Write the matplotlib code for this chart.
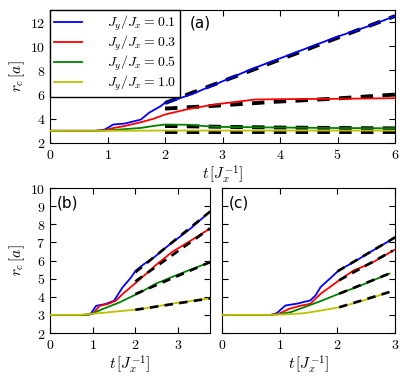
import matplotlib
matplotlib.use("Agg")
import matplotlib.pyplot as plt
from matplotlib.ticker import FuncFormatter

plt.rcParams['mathtext.fontset'] = 'cm'
plt.rcParams['font.family'] = 'serif'
plt.rcParams['font.serif'] = ['DejaVu Serif']

labels = [r'$J_y/J_x = 0.1$', r'$J_y/J_x = 0.3$', r'$J_y/J_x = 0.5$', r'$J_y/J_x = 1.0$']
colors = ['#0000ff', '#ff0000', '#008000', '#bfbf00']

# panel (a): simulation curves
ta = [
    [0, 0.8, 0.95, 1.1, 1.3, 1.58, 1.72, 1.92, 2.0, 2.2, 2.5, 3.0, 3.5, 4.0, 4.5, 5.0, 5.5, 6.0],
    [0, 0.8, 0.95, 1.11, 1.3, 1.58, 1.8, 2.0, 2.4, 2.86, 3.56, 4.0, 5.0, 6.0],
    [0, 0.8, 1.0, 1.58, 1.8, 2.0, 2.4, 2.86, 4.0, 5.0, 6.0],
    [0, 1.0, 2.0, 3.0, 4.0, 5.0, 6.0],
]
ra = [
    [3.0, 3.0, 3.1, 3.52, 3.6, 3.93, 4.49, 5.03, 5.32, 5.6, 6.1, 7.1, 8.1, 9.0, 9.9, 10.8, 11.6, 12.5],
    [3.0, 3.0, 3.05, 3.24, 3.4, 3.71, 4.0, 4.35, 4.8, 5.18, 5.59, 5.62, 5.65, 5.7],
    [3.0, 3.0, 3.03, 3.24, 3.4, 3.52, 3.5, 3.33, 3.27, 3.23, 3.21],
    [3.0, 3.0, 3.02, 3.02, 3.02, 3.02, 3.02],
]
# panel (a): fits
fa_t = [[2.0, 6.0], [2.0, 2.86, 3.9, 4.9, 6.0], [2.0, 3.0, 4.0, 6.0], [2.0, 6.0]]
fa_r = [[5.3, 12.5], [4.84, 5.07, 5.4, 5.65, 6.0], [3.4, 3.33, 3.27, 3.2], [2.93, 2.93]]

# panel (b)
tb = [
    [0, 0.8, 0.95, 1.08, 1.3, 1.5, 1.7, 1.89, 2.01, 2.2, 2.4, 2.78, 3.25, 3.75],
    [0, 0.8, 1.0, 1.16, 1.35, 1.54, 1.7, 1.93, 2.12, 2.47, 2.86, 3.3, 3.75],
    [0, 0.8, 0.95, 1.23, 1.62, 1.9, 2.12, 2.47, 2.94, 3.35, 3.75],
    [0, 0.7, 1.31, 1.7, 2.12, 2.94, 3.4, 3.75],
]
rb = [
    [3.0, 3.0, 3.05, 3.5, 3.6, 3.78, 4.52, 5.04, 5.45, 5.8, 6.1, 6.84, 7.68, 8.7],
    [3.0, 3.0, 3.05, 3.5, 3.6, 3.78, 4.15, 4.61, 4.99, 5.73, 6.47, 7.1, 7.77],
    [3.0, 3.0, 3.03, 3.32, 3.68, 4.0, 4.24, 4.71, 5.17, 5.55, 5.91],
    [3.0, 3.0, 3.13, 3.22, 3.32, 3.65, 3.8, 3.91],
]
fb_t = [[2.0, 3.75], [2.0, 3.75], [2.0, 3.75], [2.0, 3.75]]
fb_r = [[5.35, 8.7], [4.85, 7.77], [4.15, 5.91], [3.28, 3.91]]

# panel (c)
tc = [
    [0, 0.85, 0.95, 1.1, 1.3, 1.53, 1.62, 1.71, 2.03, 2.29, 2.58, 2.93, 3.0],
    [0, 0.85, 1.0, 1.16, 1.35, 1.53, 1.71, 2.03, 2.29, 2.58, 2.96, 3.0],
    [0, 0.85, 1.0, 1.19, 1.42, 1.7, 2.03, 2.41, 2.9],
    [0, 0.8, 1.1, 1.42, 1.71, 2.03, 2.46, 2.9],
]
rc = [
    [3.0, 3.0, 3.1, 3.52, 3.62, 3.8, 4.07, 4.54, 5.47, 5.93, 6.49, 7.14, 7.28],
    [3.0, 3.0, 3.08, 3.33, 3.5, 3.61, 4.17, 4.91, 5.47, 5.84, 6.54, 6.6],
    [3.0, 3.0, 3.05, 3.15, 3.42, 3.75, 4.17, 4.63, 5.28],
    [3.0, 3.0, 3.03, 3.09, 3.24, 3.42, 3.8, 4.26],
]
fc_t = [[2.0, 3.0], [2.03, 2.96], [2.03, 2.9], [2.03, 2.9]]
fc_r = [[5.4, 7.28], [4.91, 6.54], [4.17, 5.28], [3.42, 4.26]]

fig = plt.figure(figsize=(4.15, 3.78), dpi=100)
axa = fig.add_axes([0.1205, 0.622, 0.8315, 0.3515])
axb = fig.add_axes([0.1205, 0.119, 0.3855, 0.3835])
axc = fig.add_axes([0.535, 0.119, 0.417, 0.3835])

intfmt = FuncFormatter(lambda v, p: r'$%d$' % round(v))

def draw(ax, ts, rs, fts, frs, dash_lw, dash_z):
    for t, r, c, lab in zip(ts, rs, colors, labels):
        ax.plot(t, r, color=c, lw=1.3, label=lab, zorder=3)
    for t, r in zip(fts, frs):
        ax.plot(t, r, color='black', lw=dash_lw, ls=(0, (3.2, 2.4)), zorder=dash_z)
    ax.tick_params(direction='in', top=True, right=True, labelsize=10, length=4)
    ax.xaxis.set_major_formatter(intfmt)
    ax.yaxis.set_major_formatter(intfmt)
    ax.set_xlabel(r'$t\,[J_x^{-1}]$', fontsize=11, labelpad=1)

draw(axa, ta, ra, fa_t, fa_r, 2.8, 2)
axa.set_xlim(0, 6)
axa.set_ylim(2, 13)
axa.set_yticks([2, 4, 6, 8, 10, 12])
axa.set_ylabel(r'$r_c\,[a]$', fontsize=11, labelpad=2)
leg = axa.legend(loc='upper left', fontsize=10, handlelength=2.0, handletextpad=1.8,
                 borderaxespad=0, labelspacing=0.05, borderpad=0.3, fancybox=False,
                 framealpha=1)
leg.get_frame().set_edgecolor('black')
axa.text(0.405, 0.9, '(a)', transform=axa.transAxes, fontsize=11, family='DejaVu Sans',
         ha='left', va='center')

draw(axb, tb, rb, fb_t, fb_r, 1.9, 4)
axb.set_xlim(0, 3.75)
axb.set_ylim(2, 10)
axb.set_xticks([0, 1, 2, 3])
axb.set_yticks(range(2, 11))
axb.set_ylabel(r'$r_c\,[a]$', fontsize=11, labelpad=2)
axb.text(0.04, 0.9, '(b)', transform=axb.transAxes, fontsize=11, family='DejaVu Sans',
         ha='left', va='center')

draw(axc, tc, rc, fc_t, fc_r, 1.9, 4)
axc.set_xlim(0, 3)
axc.set_ylim(2, 10)
axc.set_xticks([0, 1, 2, 3])
axc.set_yticks(range(2, 11))
axc.tick_params(labelleft=False)
axc.text(0.04, 0.9, '(c)', transform=axc.transAxes, fontsize=11, family='DejaVu Sans',
         ha='left', va='center')

fig.savefig('out.png', dpi=100)
